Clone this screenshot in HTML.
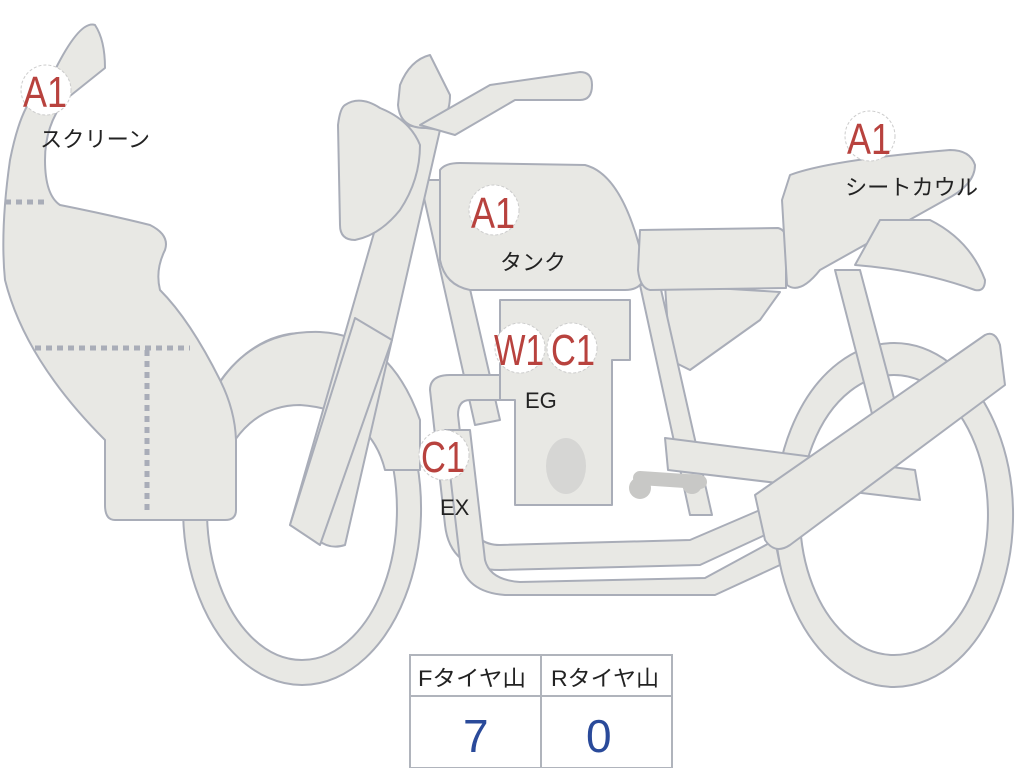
<!DOCTYPE html>
<html><head><meta charset="utf-8"><style>
html,body{margin:0;padding:0;background:#fff;}
svg{display:block}
.s{fill:#e8e8e4;stroke:#a9adb8;stroke-width:2;stroke-linejoin:round}
.c{fill:#fff;stroke:#ccc;stroke-width:1;stroke-dasharray:3 2}
.r{fill:#b8423e;font-family:"Liberation Sans",sans-serif;font-size:44px}
.k{fill:#222;font-family:"Liberation Sans","Noto Sans CJK JP",sans-serif;font-size:22px}
</style></head><body>
<svg width="1024" height="768" viewBox="0 0 1024 768">
<path class="s" fill-rule="evenodd" d="M302,333 A119,176 0 1,0 302.1,333 Z M302,360 A95,150 0 1,1 301.9,360 Z"/>
<path class="s" fill-rule="evenodd" d="M894,343 A119,172 0 1,0 894.1,343 Z M894,375 A94,140 0 1,1 893.9,375 Z"/>
<path class="s" d="M215,390 Q250,330 320,332 Q390,335 420,420 L420,470 L385,470 Q370,410 300,405 Q260,405 235,440 Z"/>
<path class="s" d="M835,270 L860,270 L905,440 L880,445 Z"/>
<path class="s" d="M665,285 L780,292 L760,320 L690,370 L670,360 Z"/>
<path class="s" d="M420,180 L445,180 L500,420 L475,425 Z"/>
<path class="s" d="M640,285 L660,285 L712,515 L690,515 Z"/>
<path class="s" d="M430,390 Q430,375 450,375 L520,375 L520,400 L470,400 Q458,400 458,415 L470,520 Q475,545 500,545 L690,540 L760,510 L765,535 L700,565 L500,570 Q450,570 445,525 Z"/>
<path class="s" d="M445,430 L470,430 L485,560 Q490,580 520,582 L705,578 L775,540 L780,565 L715,595 L505,595 Q465,592 460,560 Z"/>
<path class="s" d="M500,300 L630,300 L630,360 L612,360 L612,505 L515,505 L515,400 L500,400 Z"/>
<ellipse cx="566" cy="466" rx="20" ry="28" fill="#d6d6d4"/>
<path d="M640,478 L700,482" stroke="#c8c8c6" stroke-width="14" stroke-linecap="round"/>
<circle cx="640" cy="488" r="11" fill="#c8c8c6"/><circle cx="692" cy="484" r="10" fill="#c8c8c6"/>
<path class="s" d="M665,438 L915,470 L920,500 L668,470 Z"/>
<path class="s" d="M755,495 L985,335 Q995,330 1000,345 L1005,385 L790,545 Q775,555 765,540 Z"/>
<path class="s" d="M55,70 Q80,20 95,25 Q105,40 105,68 L65,100 Q45,125 45,160 Q45,195 60,205 Q110,215 150,225 Q170,235 165,250 Q155,270 160,290 Q190,320 220,380 Q235,410 236,440 L236,510 Q236,520 225,520 L115,520 Q105,520 105,505 L105,440 Q65,400 40,360 Q15,320 5,280 Q0,230 10,160 Q20,110 35,95 Z"/>
<path d="M5,202 L48,202 M35,348 L190,348 M147,350 L147,515" stroke="#a9adb8" stroke-width="5" stroke-dasharray="6 5" fill="none"/>
<path class="s" d="M405,125 L440,130 L345,545 Q330,550 318,540 L290,525 Z"/>
<path class="s" d="M355,318 L392,340 L320,545 L290,525 Z"/>
<path class="s" d="M345,105 Q360,95 380,108 Q410,120 420,145 Q420,180 400,210 Q380,235 355,240 Q340,240 340,225 L338,125 Q340,108 345,105 Z"/>
<path class="s" d="M400,85 Q410,60 430,55 L450,95 Q450,125 425,128 Q400,128 398,105 Z"/>
<path class="s" d="M420,125 L490,85 L580,72 Q592,72 592,85 Q592,100 580,100 L515,100 L455,135 Z"/>
<path class="s" d="M440,170 Q445,163 460,163 L585,165 Q625,175 645,270 Q645,290 625,290 L470,290 Q445,285 440,260 Z"/>
<path class="s" d="M640,230 L778,228 Q786,230 786,240 L786,288 L650,290 Q640,288 638,270 Z"/>
<path class="s" d="M790,175 Q830,160 950,150 Q970,150 975,165 Q975,185 945,200 L820,270 Q800,295 787,285 L782,200 Z"/>
<path class="s" d="M880,220 L930,220 Q970,240 985,280 Q985,292 975,290 Q920,270 855,265 Z"/>
<circle class="c" cx="46" cy="90" r="25"/><text class="r" x="23" y="107" textLength="44" lengthAdjust="spacingAndGlyphs">A1</text>
<text class="k" x="40" y="147" textLength="110" lengthAdjust="spacingAndGlyphs">スクリーン</text>
<circle class="c" cx="870" cy="136" r="25"/><text class="r" x="847" y="154" textLength="44" lengthAdjust="spacingAndGlyphs">A1</text>
<text class="k" x="845" y="195" textLength="133" lengthAdjust="spacingAndGlyphs">シートカウル</text>
<circle class="c" cx="494" cy="210" r="25"/><text class="r" x="471" y="228" textLength="44" lengthAdjust="spacingAndGlyphs">A1</text>
<text class="k" x="500" y="270" textLength="66" lengthAdjust="spacingAndGlyphs">タンク</text>
<circle class="c" cx="520" cy="348" r="25"/><circle class="c" cx="572" cy="348" r="25"/>
<text class="r" x="494" y="365" textLength="50" lengthAdjust="spacingAndGlyphs">W1</text><text class="r" x="551" y="365" textLength="44" lengthAdjust="spacingAndGlyphs">C1</text>
<text class="k" x="525" y="408">EG</text>
<circle class="c" cx="444" cy="455" r="25"/><text class="r" x="421" y="472" textLength="44" lengthAdjust="spacingAndGlyphs">C1</text>
<text class="k" x="440" y="515">EX</text>
<rect x="410" y="655" width="262" height="113" fill="#fff" stroke="#b0b4bc" stroke-width="2"/>
<line x1="410" y1="696" x2="672" y2="696" stroke="#b0b4bc" stroke-width="2"/>
<line x1="541" y1="655" x2="541" y2="768" stroke="#b0b4bc" stroke-width="2"/>
<text class="k" x="418" y="686" textLength="108" lengthAdjust="spacingAndGlyphs">Fタイヤ山</text>
<text class="k" x="551" y="686" textLength="108" lengthAdjust="spacingAndGlyphs">Rタイヤ山</text>
<text x="463" y="752" font-family="Liberation Sans,sans-serif" font-size="46" fill="#2a4a9a">7</text>
<text x="586" y="752" font-family="Liberation Sans,sans-serif" font-size="46" fill="#2a4a9a">0</text>
</svg>
</body></html>
